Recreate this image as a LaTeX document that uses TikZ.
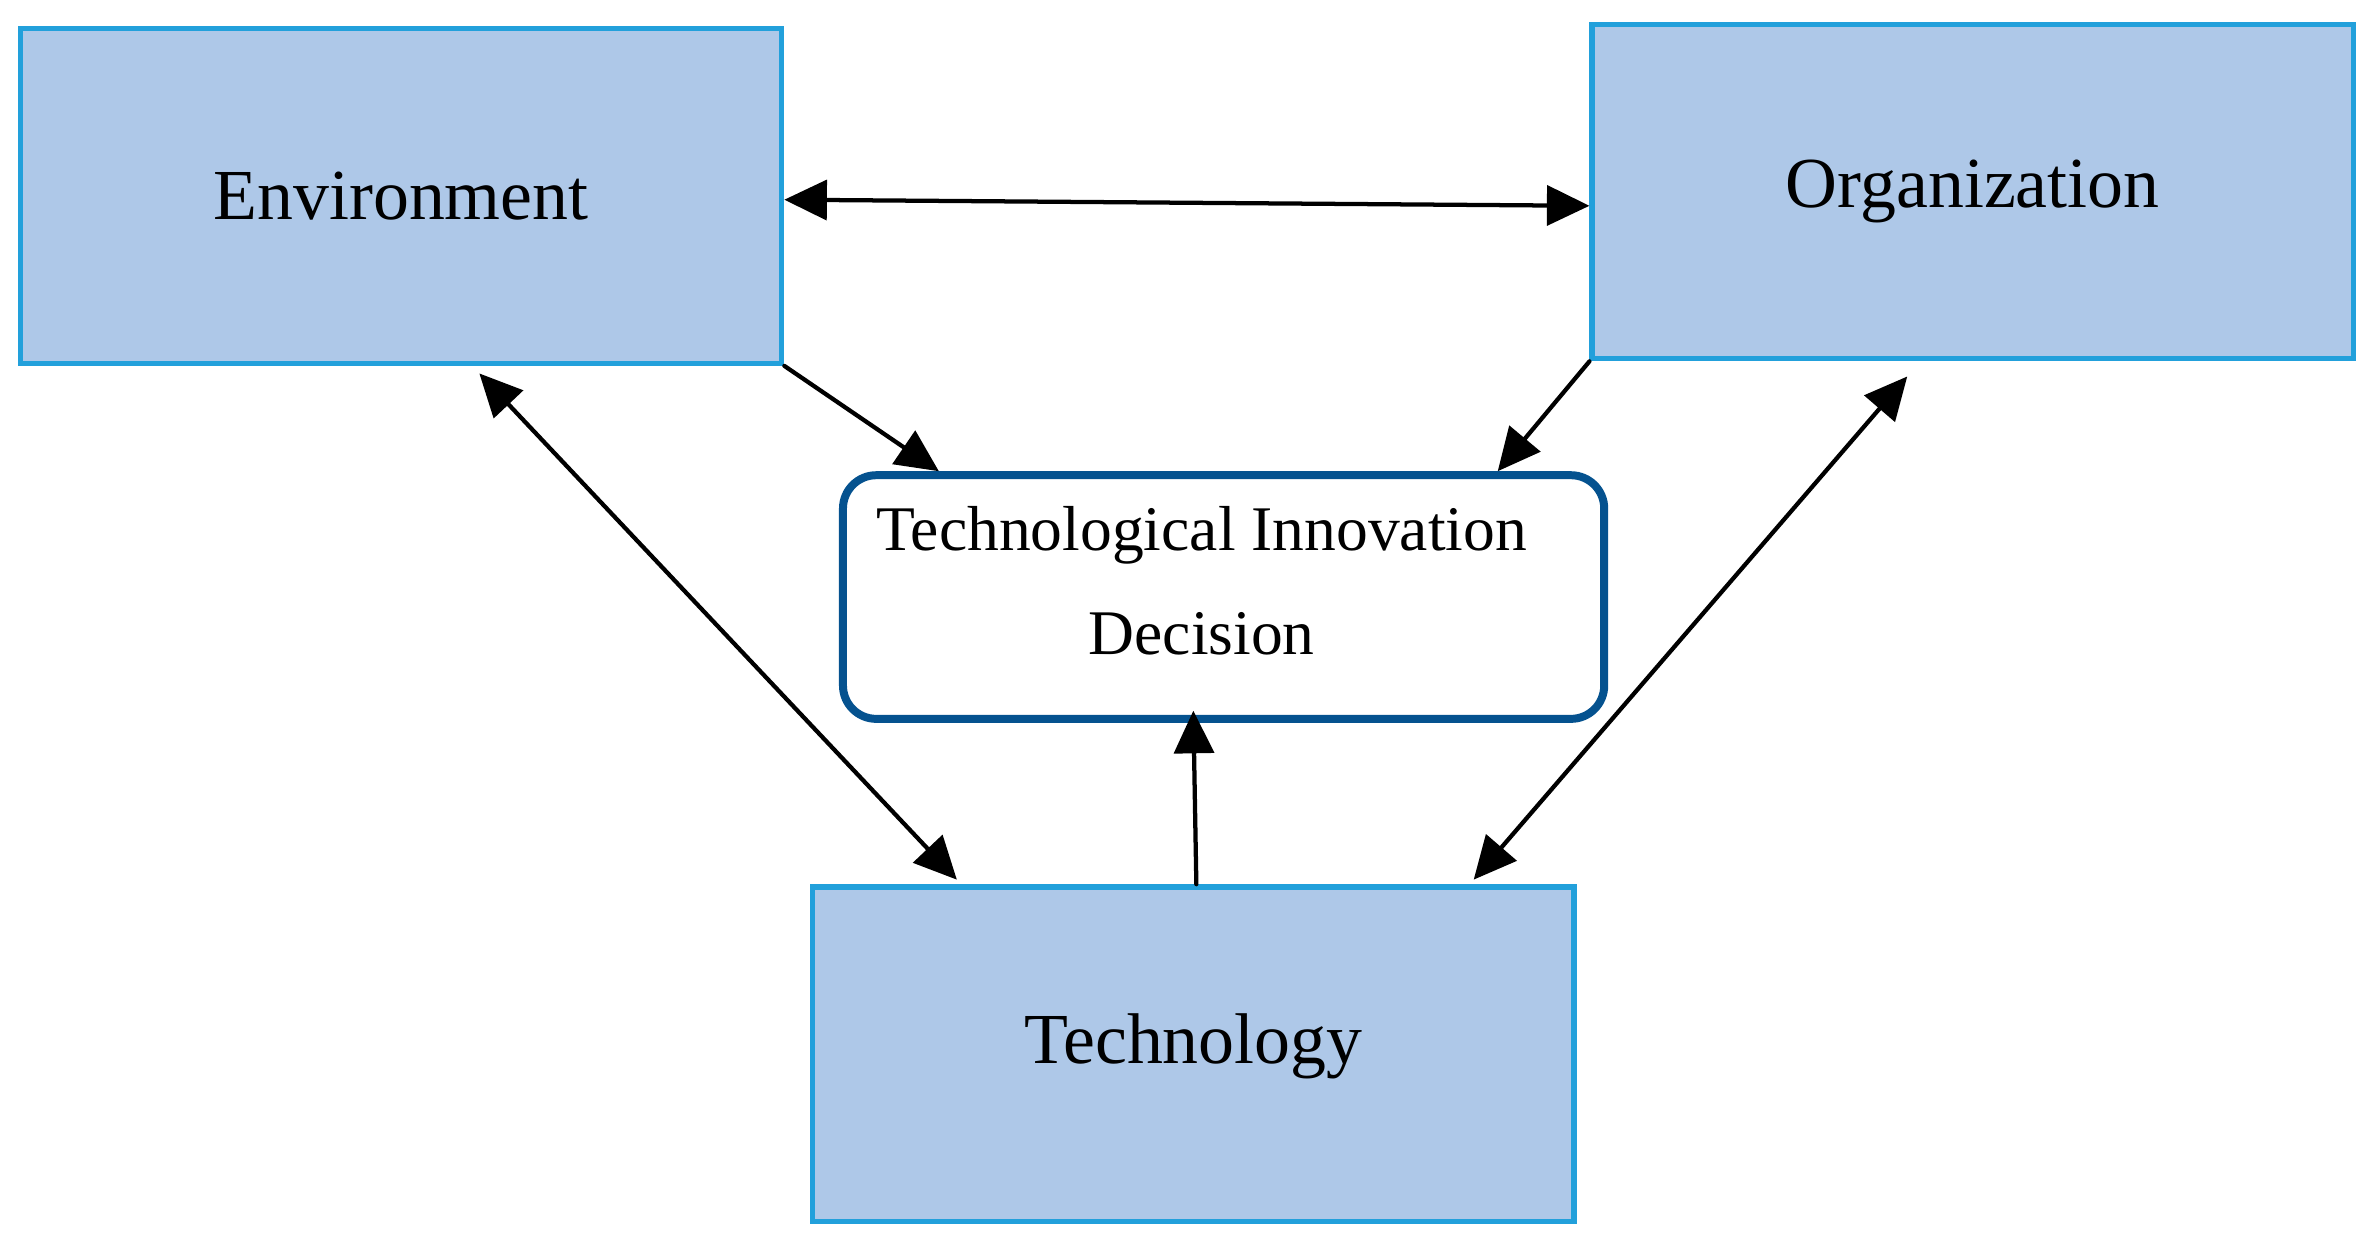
\documentclass[tikz,border=0pt]{standalone}
\usepackage{fontspec}
\setmainfont{Liberation Serif}
\usepackage{tikz}
\usetikzlibrary{arrows.meta,positioning}
\usepackage{xcolor}
\definecolor{boxfill}{HTML}{AEC8E8}
\definecolor{boxline}{HTML}{22A0DB}
\definecolor{decline}{HTML}{05528F}

\begin{document}
\begin{tikzpicture}[>={Triangle[length=8pt,width=7.5pt]},line cap=round,
  factor/.style={draw=boxline,fill=boxfill,line width=1pt,minimum width=5.03cm,minimum height=2.21cm,font=\fontsize{13.5}{15}\selectfont},
  decbox/.style={draw=decline,line width=1.5pt,rounded corners=0.22cm,minimum width=5.03cm,minimum height=1.61cm},
  link/.style={line width=0.8pt}]
\useasboundingbox (0,0) rectangle (15.68,8.22);
\node[factor] (env) at (2.65,6.925) {Environment};
\node[factor] (org) at (13.035,6.955) {Organization};
\node[factor,text depth=6pt] (tech) at (7.885,1.255) {Technology};
\node[decbox] (tid) at (8.085,4.275) {};
\node[font=\fontsize{11.95}{19.6}\selectfont,align=center] (tidtext) at (7.94,4.385) {Technological Innovation\\Decision};
\draw[link,<->] ([yshift=-0.7pt]env.east) -- ([yshift=-2.7pt]org.west);
\draw[link,->] (env.south east) -- ([xshift=0.66cm]tid.north west);
\draw[link,->] (org.south west) -- ([xshift=-0.73cm]tid.north east);
\draw[link,<->] ([xshift=3.05cm,yshift=-0.05cm]env.south west) -- ([xshift=0.97cm,yshift=0.03cm]tech.north west);
\draw[link,<->] ([xshift=2.10cm,yshift=-0.1cm]org.south west) -- ([xshift=-0.68cm,yshift=0.03cm]tech.north east);
\draw[link,->] ([xshift=0.02cm]tech.north) -- ([xshift=-0.2cm,yshift=0.08cm]tid.south);
\end{tikzpicture}
\end{document}
